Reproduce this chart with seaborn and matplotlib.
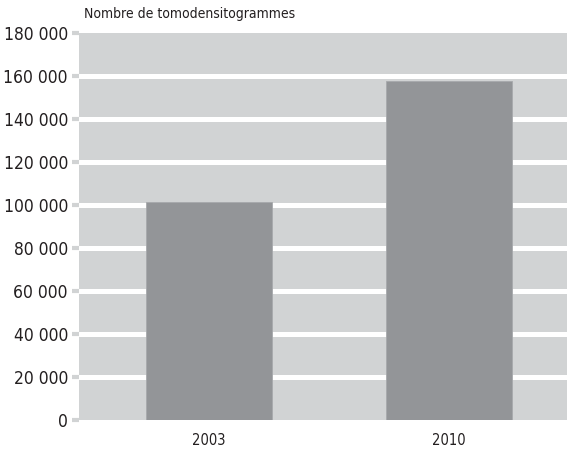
import matplotlib
matplotlib.use("Agg")
import matplotlib.pyplot as plt
import matplotlib.ticker as mticker
import seaborn as sns
import pandas as pd

# données
annees = ["2003", "2010"]
nb_examens = [101300, 157800]
y_ticks = list(range(0, 180001, 20000))

df = pd.DataFrame({"Annee": annees, "Nombre": nb_examens})

sns.set_style("white")
plt.rcParams["font.family"] = ["DejaVu Sans"]
plt.rcParams["font.stretch"] = "condensed"

fig = plt.figure(figsize=(5.67, 4.51), dpi=100)
ax = fig.add_axes([79 / 567, 31 / 451, 1 - 79 / 567, 387 / 451])
ax.set_facecolor("#d1d3d4")

sns.barplot(data=df, x="Annee", y="Nombre", color="#939598", saturation=1,
            width=0.523, edgecolor="#a7a9ac", linewidth=0.6, ax=ax, zorder=3)

ax.set_ylim(0, 180000)
ax.set_xlim(-0.54, 1.49)
ax.set_yticks(y_ticks)
ax.yaxis.set_major_formatter(
    mticker.FuncFormatter(lambda v, p: f"{int(v):,}".replace(",", " ")))
ax.yaxis.grid(True, color="white", linewidth=3.6, zorder=1)
ax.set_axisbelow(True)
# pas de ligne blanche en haut et en bas
gl = ax.get_ygridlines()
gl[0].set_visible(False)
gl[-1].set_visible(False)
for s in ax.spines.values():
    s.set_visible(False)

ax.tick_params(axis="y", left=True, length=5, width=3, color="#d1d3d4", pad=3,
               labelsize=12.5, labelcolor="#231f20")
ax.tick_params(axis="x", bottom=False, pad=6, labelsize=10.5, labelcolor="#231f20")
ax.set_xlabel("")
ax.set_ylabel("")

fig.text(84 / 567, 1 - 14 / 451, "Nombre de tomodensitogrammes",
         fontsize=10, color="#231f20", va="center", ha="left")

fig.savefig("out.png", dpi=100)
